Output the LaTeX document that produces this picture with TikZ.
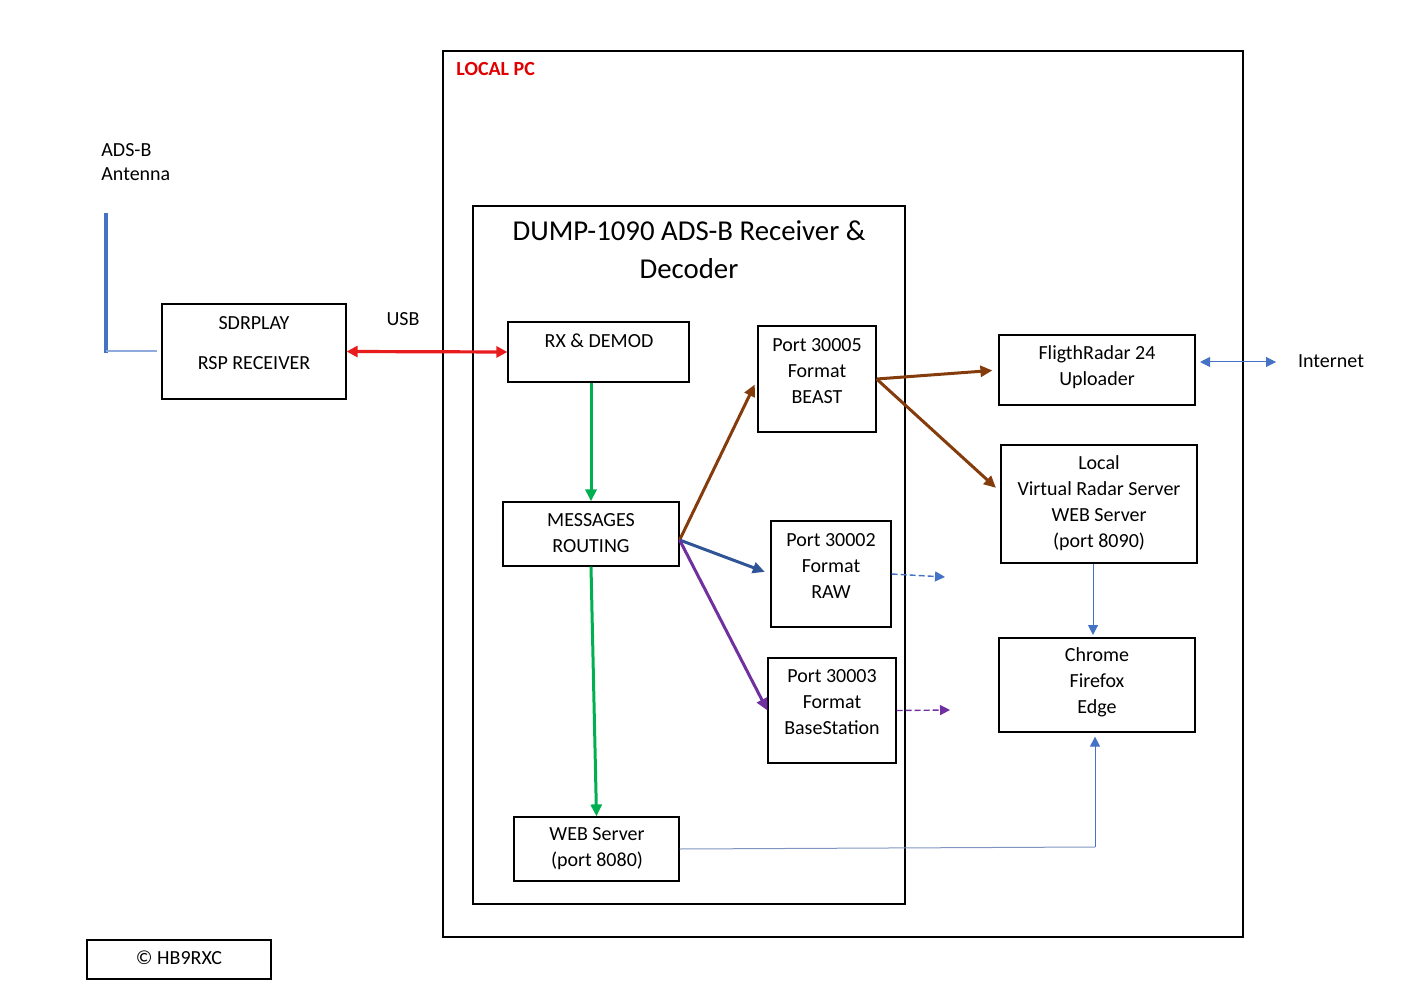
\documentclass[tikz,border=0pt]{standalone}
\usepackage{fontspec}
\setmainfont{Carlito}
\usetikzlibrary{arrows.meta,fit,calc}
\definecolor{usbred}{HTML}{E81C1C}
\definecolor{pcred}{HTML}{E00000}
\definecolor{msggreen}{HTML}{00B050}
\definecolor{beastbrown}{HTML}{843C0C}
\definecolor{rawblue}{HTML}{2F5597}
\definecolor{bsviolet}{HTML}{7030A0}
\definecolor{linkblue}{HTML}{4472C4}
\definecolor{feedblue}{HTML}{8FAADC}
\definecolor{wireblue}{HTML}{7F95C0}
\tikzset{
	box/.style={draw, line width=0.6pt, inner sep=0pt},
	txt/.style={align=center, inner sep=0pt, font=\fontsize{10}{13}\selectfont},
	flow/.style={line width=1.5pt, -{Triangle[length=6pt,width=5.5pt]}},
	weblink/.style={linkblue, line width=0.5pt, -{Triangle[length=5pt,width=5pt]}},
	outfeed/.style={line width=0.7pt, dashed, dash pattern=on 3pt off 1.5pt, -{Triangle[length=5pt,width=5pt]}},
}

\begin{document}
\begin{tikzpicture}[x=0.5pt,y=-0.5pt]
	\useasboundingbox (0,0) rectangle (1417,999);
	\node[box, fit={(443,51) (1243,937)}] (pc) {};
	\node[box, fit={(473,206) (905,904)}] (dump) {};
	\node[box, fit={(162,304) (346,399)}] (sdr) {};
	\node[box, fit={(508,322) (689,382)}] (rx) {};
	\node[box, fit={(503,502) (679,566)}] (msg) {};
	\node[box, fit={(514,817) (679,881)}] (web) {};
	\node[box, fit={(758,326) (876,432)}] (beast) {};
	\node[box, fit={(771,521) (891,627)}] (raw) {};
	\node[box, fit={(768,658) (896,763)}] (bs) {};
	\node[box, fit={(999,335) (1195,405)}] (fr) {};
	\node[box, fit={(1001,445) (1197,563)}] (vrs) {};
	\node[box, fit={(999,638) (1195,732)}] (browser) {};
	\node[box, fit={(87,940) (271,979)}] (copy) {};

	\node[txt, anchor=west, text=pcred, font=\fontsize{10}{13}\selectfont\bfseries] (pclabel) at (456,69) {LOCAL PC};
	\node[txt, font=\fontsize{14.4}{19}\selectfont] (title) at (689,250) {DUMP-1090 ADS-B Receiver \&\\Decoder};
	\node[txt, anchor=west, align=left, font=\fontsize{10}{12}\selectfont] (antlabel) at (101,162) {ADS-B\\Antenna};
	\node[txt] (sdrtext) at (254,343) {SDRPLAY\\[7pt]RSP RECEIVER};
	\node[txt] (usb) at (403,319) {USB};
	\node[txt] (rxtext) at (599,341) {RX \& DEMOD};
	\node[txt] (msgtext) at (591,533.5) {MESSAGES\\ROUTING};
	\node[txt] (webtext) at (597,849) {WEB Server\\(port 8080)};
	\node[txt] (beasttext) at (817,371) {Port 30005\\Format\\BEAST};
	\node[txt] (rawtext) at (831,566) {Port 30002\\Format\\RAW};
	\node[txt] (bstext) at (832,702) {Port 30003\\Format\\BaseStation};
	\node[txt] (frtext) at (1097,367) {FligthRadar 24\\Uploader};
	\node[txt] (vrstext) at (1099,503) {Local\\Virtual Radar Server\\WEB Server\\(port 8090)};
	\node[txt] (browsertext) at (1097,682.5) {Chrome\\Firefox\\Edge};
	\node[txt] (inet) at (1331,361) {Internet};
	\node[txt] (copytext) at (179,958) {© HB9RXC};

	\draw[linkblue, line width=2pt] (106,213) -- (106,353);
	\coordinate (ant) at (106,351);
	\coordinate (hub) at ($(msg.east)+(0,6)$);
	\coordinate (rawout) at (945,577);
	\coordinate (bsout) at (950,710);
	\coordinate (frport) at (1200,362);
	\coordinate (inetport) at (1276,362);
	\coordinate (vrsport) at (1093,564);
	\coordinate (brport) at (1093,637);
	\coordinate (bend) at (1095,847);

	\draw[feedblue, line width=0.6pt, shorten >=2pt] (ant) -- (ant -| sdr.west);
	\draw[usbred, line width=1.6pt, {Triangle[length=5.5pt,width=5.5pt]}-{Triangle[length=5.5pt,width=5.5pt]}] (sdr.east) -- (rx.west);
	\draw[flow, msggreen] (rx.south -| msg.north) -- (msg.north);
	\draw[flow, msggreen] (msg.south) -- (web.north);
	\draw[flow, beastbrown, shorten >=3pt] (hub) -- (beast.west);
	\draw[flow, rawblue, shorten >=3pt] (hub) -- (raw.west);
	\draw[flow, bsviolet] (hub) -- (bs.west);
	\draw[flow, beastbrown, shorten >=3pt] (beast.east) -- (fr.west);
	\draw[flow, beastbrown, shorten >=3pt] (beast.east) -- (vrs.173);
	\draw[outfeed, linkblue] (raw.east) -- (rawout);
	\draw[outfeed, bsviolet] (bs.east) -- (bsout);
	\draw[weblink, {Triangle[length=5pt,width=5pt]}-{Triangle[length=5pt,width=5pt]}] (frport) -- (inetport);
	\draw[weblink, shorten >=1pt] (vrsport) -- (brport);
	\draw[weblink, wireblue, -] (web.east) -- (bend);
	\draw[weblink, shorten >=2pt] (bend) -- (bend |- browser.south);
\end{tikzpicture}
\end{document}
